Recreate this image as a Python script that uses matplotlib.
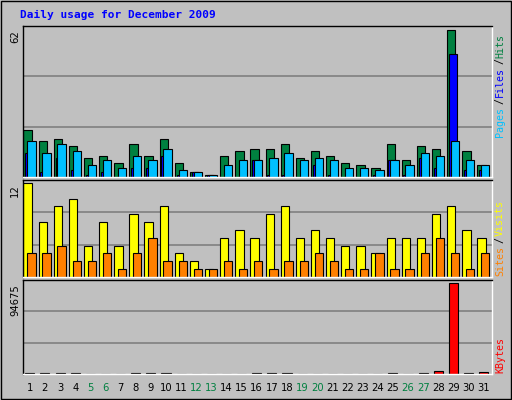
import matplotlib
matplotlib.use("Agg")
import matplotlib.pyplot as plt
import numpy as np

days = list(range(1, 32))
hits  = [20,15,16,13,8,9,6,14,9,16,6,2,1,9,11,12,12,14,8,11,9,6,5,4,14,7,13,12,62,11,5]
files = [10,2,8,3,1,2,0,4,4,9,1,2,1,0,0,7,1,1,0,5,1,0,0,1,7,1,8,4,52,3,3]
pages = [15,10,14,11,5,7,4,9,7,12,3,2,1,5,7,7,8,10,7,8,7,4,4,3,7,5,10,9,15,7,5]
visits = [12,7,9,10,4,7,4,8,7,9,3,2,1,5,6,5,8,9,5,6,5,4,4,3,5,5,5,8,9,6,5]
sites  = [3,3,4,2,2,3,1,3,5,2,2,1,1,2,1,2,1,2,2,3,2,1,1,3,1,1,3,5,3,1,3]
kbytes = [600,600,600,600,500,500,500,600,600,600,500,400,300,500,500,600,600,600,500,500,500,500,500,500,600,500,600,2800,94675,600,2500]
weekend = {5,6,12,13,19,20,26,27}

W, H = 512, 400
fig = plt.figure(figsize=(W/100, H/100), dpi=100, facecolor='#c0c0c0')
mono = 'DejaVu Sans Mono'

def ax_at(x0, y0, x1, y1):
    return fig.add_axes([x0/W, 1-y1/H, (x1-x0)/W, (y1-y0)/H])

def style(ax, top):
    ax.set_facecolor('#c0c0c0')
    ax.set_xlim(0.5, 31.5)
    ax.set_ylim(0, top)
    for t in (top/3, 2*top/3):
        ax.axhline(t, color='#808080', lw=1.2, zorder=0)
    ax.set_xticks([]); ax.set_yticks([])
    for s in ax.spines.values():
        s.set_color('black'); s.set_linewidth(1)
    ax.spines['right'].set_color('white'); ax.spines['bottom'].set_color('white')

x = np.array(days, dtype=float)
kw = dict(edgecolor='black', linewidth=0.8, align='edge')

a1 = ax_at(23, 26, 492, 177)
style(a1, 62/0.975)
a1.bar(x-0.5+0.03, hits, width=0.55, color='#008040', **kw)
a1.bar(x-0.5+0.15, files, width=0.55, color='#0000ff', **kw)
a1.bar(x-0.5+0.28, pages, width=0.55, color='#00c0ff', **kw)

a2 = ax_at(23, 180, 492, 277)
style(a2, 12/0.97)
a2.bar(x-0.5+0.03, visits, width=0.55, color='#ffff00', **kw)
a2.bar(x-0.5+0.28, sites, width=0.55, color='#ff8000', **kw)

a3 = ax_at(23, 280, 492, 374)
style(a3, 94675/0.97)
a3.bar(x-0.5+0.15, kbytes, width=0.6, color='#ff0000', **kw)

for d in days:
    a3.text(d-0.5+0.45, -0.1, str(d), transform=a3.get_xaxis_transform(), ha='center', va='top',
            fontsize=7.2, color='#008040' if d in weekend else 'black')

fig.text(20/W, 1-15/H, 'Daily usage for December 2009', fontsize=8, fontweight='bold',
         family=mono, color='#0000ff', va='center')

for y, lab in ((30, '62'), (184, '12'), (284, '94675')):
    fig.text(15/W, 1-y/H, lab, rotation=90, fontsize=7.2, ha='center', va='top')

def side(parts, ybottom):
    y = ybottom
    for txt, col in parts:
        t = fig.text(500/W, 1-y/H, txt, rotation=90, fontsize=7.2, family=mono,
                     color=col, ha='center', va='bottom')
        y -= len(txt)*6.6
side([('Pages', '#00c0ff'), ('/', 'black'), ('Files', '#0000ff'), ('/', 'black'), ('Hits', '#008040')], 137)
side([('Sites', '#ff8000'), ('/', 'black'), ('Visits', '#ffff00')], 276)
side([('KBytes', '#ff0000')], 373)

fig.patches.append(plt.Rectangle((1/W, 1/H), 1-2/W, 1-2/H, transform=fig.transFigure,
                                 fill=False, edgecolor='black', lw=1))
fig.savefig('out.png', dpi=100, facecolor='#c0c0c0')
